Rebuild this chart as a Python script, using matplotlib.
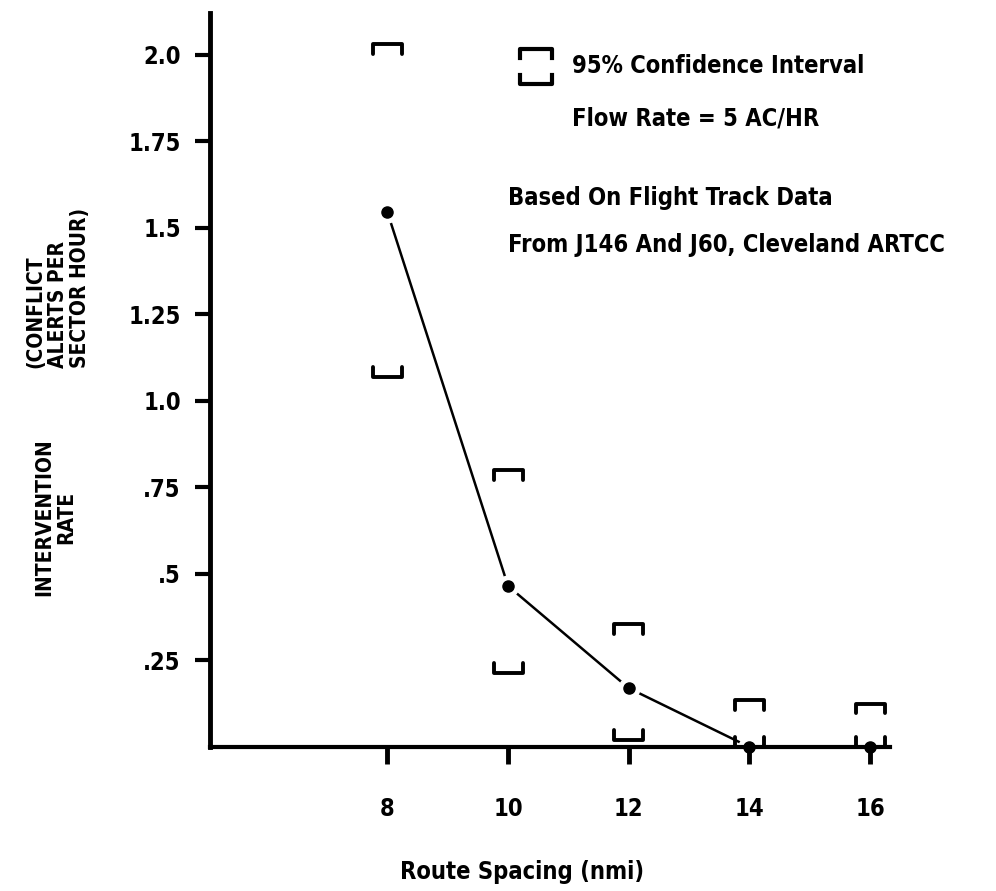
import matplotlib.pyplot as plt

# route spacing (nmi) and intervention rate
spacing = [8, 10, 12, 14, 16]
rate = [1.545, 0.465, 0.17, 0.0, 0.0]
ci_upper = [2.03, 0.80, 0.355, 0.135, 0.125]
ci_lower = [1.07, 0.215, 0.02, 0.0, 0.0]
y_ticks = [0.25, 0.5, 0.75, 1.0, 1.25, 1.5, 1.75, 2.0]
y_tick_labels = [".25", ".5", ".75", "1.0", "1.25", "1.5", "1.75", "2.0"]
x_ticks = [8, 10, 12, 14, 16]

plt.rcParams["font.family"] = "DejaVu Sans"
plt.rcParams["font.weight"] = "bold"
plt.rcParams["font.stretch"] = "condensed"

W, H = 996, 891
fig = plt.figure(figsize=(W / 100, H / 100), dpi=100)
ax = fig.add_axes([210 / W, 1 - 747 / H, 680 / W, 734 / H])


def fx(px):
    return px / W


def fy(py):
    return 1 - py / H


# confidence interval brackets
w = 0.24
h = 0.028
for x, u, l in zip(spacing, ci_upper, ci_lower):
    ax.plot([x - w, x - w, x + w, x + w], [u - h, u, u, u - h],
            color="black", lw=2.8, solid_capstyle="round", clip_on=False)
    ax.plot([x - w, x - w, x + w, x + w], [l + h, l, l, l + h],
            color="black", lw=2.8, solid_capstyle="round", clip_on=False)

# mean line, small white gap round each dot like the scan
# (kept under the axis so ticks and spine stay whole)
ax.plot(spacing, rate, color="black", lw=1.8, clip_on=False, zorder=1.2)
ax.plot(spacing, rate, "o", ms=15, color="white", clip_on=False, zorder=1.3)
ax.plot(spacing, rate, "o", ms=8, color="black", clip_on=False, zorder=3)

ax.set_xlim(5.06, 16.33)
ax.set_ylim(0, 2.12)
ax.set_xticks(x_ticks)
ax.set_xticklabels([str(v) for v in x_ticks])
ax.set_yticks(y_ticks)
ax.set_yticklabels(y_tick_labels)

for s in ["top", "right"]:
    ax.spines[s].set_visible(False)
ax.spines["left"].set_linewidth(3.5)
ax.spines["bottom"].set_linewidth(3.0)

ax.tick_params(axis="y", direction="out", length=11, width=3, pad=10,
               labelsize=17)
ax.tick_params(axis="x", direction="out", length=12, width=3.5, pad=24,
               labelsize=17)

# legend bracket icon
ax.plot([fx(520), fx(520), fx(552), fx(552)],
        [fy(58), fy(49), fy(49), fy(58)],
        color="black", lw=3, transform=fig.transFigure, clip_on=False)
ax.plot([fx(520), fx(520), fx(552), fx(552)],
        [fy(75), fy(84), fy(84), fy(75)],
        color="black", lw=3, transform=fig.transFigure, clip_on=False)

fig.text(fx(572), fy(66), "95% Confidence Interval", fontsize=17,
         ha="left", va="center")
fig.text(fx(572), fy(118), "Flow Rate = 5 AC/HR", fontsize=17,
         ha="left", va="center")
fig.text(fx(508), fy(198), "Based On Flight Track Data", fontsize=17,
         ha="left", va="center")
fig.text(fx(508), fy(245), "From J146 And J60, Cleveland ARTCC", fontsize=17,
         ha="left", va="center")

fig.text(fx(58), fy(368), "(CONFLICT\nALERTS PER\nSECTOR HOUR)",
         rotation=90, fontsize=15, ha="center", va="bottom",
         multialignment="left", linespacing=1.15)
fig.text(fx(55), fy(517), "INTERVENTION\nRATE", rotation=90, fontsize=15,
         ha="center", va="center", multialignment="center", linespacing=1.15)

fig.text(fx(522), fy(872), "Route Spacing (nmi)", fontsize=17,
         ha="center", va="center")

fig.savefig("out.png", dpi=100)
plt.close("all")
